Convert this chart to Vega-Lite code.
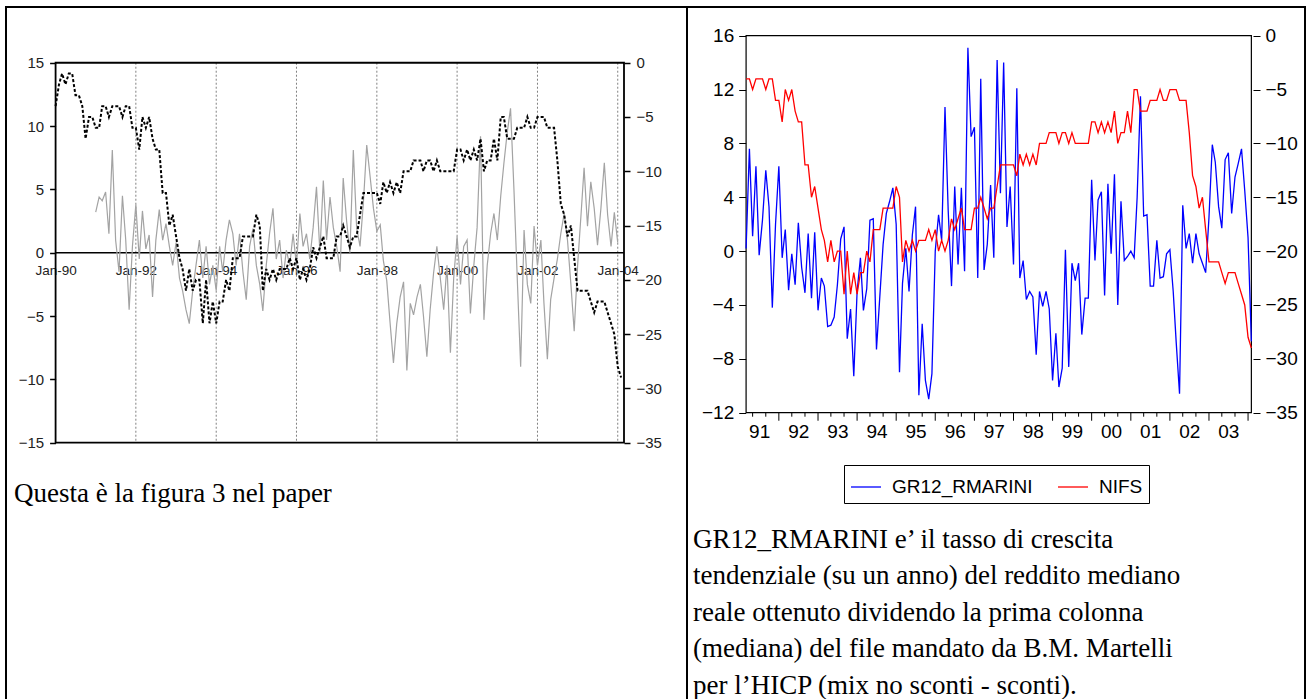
{
"$schema":"https://vega.github.io/schema/vega-lite/v6.json",
"padding":{"left":5,"top":6,"right":0,"bottom":0},
"background":"white",
"spacing":0,
"bounds":"flush",
"config":{"view":{"stroke":"#000","strokeWidth":2},"font":"Liberation Sans"},
"datasets":{
"gridL":[{"d":"1992-01"},{"d":"1994-01"},{"d":"1996-01"},{"d":"1998-01"},{"d":"2000-01"},{"d":"2002-01"},{"d":"2004-01"}],
"yearR":[{"d":"1992-01"},{"d":"1993-01"},{"d":"1994-01"},{"d":"1995-01"},{"d":"1996-01"},{"d":"1997-01"},{"d":"1998-01"},{"d":"1999-01"},{"d":"2000-01"},{"d":"2001-01"},{"d":"2002-01"},{"d":"2003-01"},{"d":"2004-01"}],
"minorR":[{"d":"1991-05"},{"d":"1991-09"},{"d":"1992-05"},{"d":"1992-09"},{"d":"1993-05"},{"d":"1993-09"},{"d":"1994-05"},{"d":"1994-09"},{"d":"1995-05"},{"d":"1995-09"},{"d":"1996-05"},{"d":"1996-09"},{"d":"1997-05"},{"d":"1997-09"},{"d":"1998-05"},{"d":"1998-09"},{"d":"1999-05"},{"d":"1999-09"},{"d":"2000-05"},{"d":"2000-09"},{"d":"2001-05"},{"d":"2001-09"},{"d":"2002-05"},{"d":"2002-09"},{"d":"2003-05"},{"d":"2003-09"}],
"m":[
{"d":"1990-01","n":-4},{"d":"1990-02","n":-2},{"d":"1990-03","n":-1},{"d":"1990-04","n":-2},{"d":"1990-05","n":-1},{"d":"1990-06","n":-1},{"d":"1990-07","n":-3},{"d":"1990-08","n":-3},{"d":"1990-09","n":-4},{"d":"1990-10","n":-7},{"d":"1990-11","n":-5},{"d":"1990-12","n":-5},
{"d":"1991-01","n":-6,"g":3.2},{"d":"1991-02","n":-6,"g":4.4},{"d":"1991-03","n":-4,"b":0.2,"g":4.1},{"d":"1991-04","n":-4,"b":7.6,"g":4.8},{"d":"1991-05","n":-5,"b":1.1,"g":1.5},{"d":"1991-06","n":-4,"b":6.3,"g":8.1},{"d":"1991-07","n":-4,"b":-0.3,"g":1.0},{"d":"1991-08","n":-4,"b":2.3,"g":-1.5},{"d":"1991-09","n":-5,"b":6.0,"g":4.5},{"d":"1991-10","n":-4,"b":3.3,"g":1.0},{"d":"1991-11","n":-4,"b":-4.2,"g":-4.5},{"d":"1991-12","n":-6,"b":2.0,"g":0.5},
{"d":"1992-01","n":-6,"b":6.3,"g":3.8},{"d":"1992-02","n":-8,"b":-0.5,"g":-0.5},{"d":"1992-03","n":-5,"b":1.6,"g":3.3},{"d":"1992-04","n":-6,"b":-2.9,"g":0.3},{"d":"1992-05","n":-5,"b":-0.2,"g":1.4},{"d":"1992-06","n":-7,"b":-2.5,"g":-3.5},{"d":"1992-07","n":-8,"b":2.1,"g":1.0},{"d":"1992-08","n":-8,"b":-1.2,"g":3.4},{"d":"1992-09","n":-12,"b":-3.1,"g":1.0},{"d":"1992-10","n":-12,"b":1.3,"g":2.3},{"d":"1992-11","n":-15,"b":-3.5,"g":0.5},{"d":"1992-12","n":-14,"b":1.4,"g":-1.0},
{"d":"1993-01","n":-16,"b":-4.4,"g":0.8},{"d":"1993-02","n":-18,"b":-2.0,"g":-2.0},{"d":"1993-03","n":-19,"b":-2.6,"g":-3.0},{"d":"1993-04","n":-21,"b":-5.6,"g":-4.5},{"d":"1993-05","n":-19,"b":-5.5,"g":-5.6},{"d":"1993-06","n":-21,"b":-4.9,"g":-3.0},{"d":"1993-07","n":-20,"b":-2.5,"g":-1.0},{"d":"1993-08","n":-20,"b":0.9,"g":1.0},{"d":"1993-09","n":-24,"b":1.8,"g":-2.0},{"d":"1993-10","n":-20,"b":-6.5,"g":0.5},{"d":"1993-11","n":-24,"b":-4.3,"g":-2.5},{"d":"1993-12","n":-22,"b":-9.3,"g":-1.0},
{"d":"1994-01","n":-24,"b":-3.0,"g":-3.0},{"d":"1994-02","n":-22,"b":-0.5,"g":0.5},{"d":"1994-03","n":-22,"b":-4.4,"g":-1.5},{"d":"1994-04","n":-20,"b":-2.8,"g":1.0},{"d":"1994-05","n":-21,"b":2.3,"g":2.6},{"d":"1994-06","n":-18,"b":2.4,"g":1.5},{"d":"1994-07","n":-18,"b":-7.3,"g":-1.0},{"d":"1994-08","n":-18,"b":-3.4,"g":1.5},{"d":"1994-09","n":-16,"b":0.5,"g":-1.5},{"d":"1994-10","n":-16,"b":2.8,"g":-3.7},{"d":"1994-11","n":-16,"b":3.7,"g":0.5},{"d":"1994-12","n":-16,"b":4.7,"g":1.9},
{"d":"1995-01","n":-14,"b":2.0,"g":-1.0},{"d":"1995-02","n":-15,"b":-9.0,"g":-2.5},{"d":"1995-03","n":-21,"b":-2.4,"g":-4.6},{"d":"1995-04","n":-19,"b":0.2,"g":-1.0},{"d":"1995-05","n":-20,"b":-3.0,"g":1.5},{"d":"1995-06","n":-19,"b":1.2,"g":3.5},{"d":"1995-07","n":-20,"b":3.3,"g":-0.5},{"d":"1995-08","n":-19,"b":-10.7,"g":1.0},{"d":"1995-09","n":-19,"b":-5.4,"g":-2.0},{"d":"1995-10","n":-19,"b":-9.6,"g":0.2},{"d":"1995-11","n":-18,"b":-11.0,"g":-1.0},{"d":"1995-12","n":-19,"b":-9.1,"g":1.5},
{"d":"1996-01","n":-18,"b":0.0,"g":-1.0},{"d":"1996-02","n":-20,"b":2.7,"g":3.1},{"d":"1996-03","n":-19,"b":0.8,"g":0.5},{"d":"1996-04","n":-20,"b":10.7,"g":1.5},{"d":"1996-05","n":-19,"b":3.0,"g":-0.5},{"d":"1996-06","n":-17,"b":-2.6,"g":2.0},{"d":"1996-07","n":-18,"b":4.8,"g":5.2},{"d":"1996-08","n":-17,"b":-1.0,"g":0.0},{"d":"1996-09","n":-16,"b":4.7,"g":5.7},{"d":"1996-10","n":-18,"b":-1.5,"g":1.0},{"d":"1996-11","n":-18,"b":15.1,"g":4.4},{"d":"1996-12","n":-18,"b":8.5,"g":2.0},
{"d":"1997-01","n":-16,"b":9.2,"g":0.5},{"d":"1997-02","n":-16,"b":-2.0,"g":-1.5},{"d":"1997-03","n":-15,"b":12.8,"g":5.9},{"d":"1997-04","n":-16,"b":-1.4,"g":2.5},{"d":"1997-05","n":-17,"b":0.5,"g":0.0},{"d":"1997-06","n":-16,"b":4.9,"g":8.1},{"d":"1997-07","n":-16,"b":-0.5,"g":2.0},{"d":"1997-08","n":-14,"b":14.2,"g":0.5},{"d":"1997-09","n":-12,"b":4.3,"g":4.0},{"d":"1997-10","n":-12,"b":14.0,"g":8.5},{"d":"1997-11","n":-12,"b":1.8,"g":6.0},{"d":"1997-12","n":-12,"b":4.8,"g":3.5},
{"d":"1998-01","n":-12,"b":-1.0,"g":1.7},{"d":"1998-02","n":-13,"b":12.1,"g":2.2},{"d":"1998-03","n":-11,"b":-2.0,"g":-0.6},{"d":"1998-04","n":-12,"b":-0.7,"g":-2.2},{"d":"1998-05","n":-11,"b":-3.6,"g":-5.5},{"d":"1998-06","n":-12,"b":-3.0,"g":-8.7},{"d":"1998-07","n":-11,"b":-3.4,"g":-5.6},{"d":"1998-08","n":-12,"b":-7.7,"g":-3.5},{"d":"1998-09","n":-10,"b":-3.0,"g":-2.3},{"d":"1998-10","n":-10,"b":-4.1,"g":-9.3},{"d":"1998-11","n":-10,"b":-3.0,"g":-4.0},{"d":"1998-12","n":-9,"b":-4.3,"g":-4.9},
{"d":"1999-01","n":-9,"b":-9.6,"g":-3.5},{"d":"1999-02","n":-9,"b":-6.1,"g":-2.5},{"d":"1999-03","n":-10,"b":-10.1,"g":-5.0},{"d":"1999-04","n":-9,"b":-8.7,"g":-8.2},{"d":"1999-05","n":-9,"b":0.1,"g":-4.5},{"d":"1999-06","n":-10,"b":-8.6,"g":-1.6},{"d":"1999-07","n":-9,"b":-0.9,"g":0.5},{"d":"1999-08","n":-10,"b":-2.2,"g":-2.0},{"d":"1999-09","n":-10,"b":-0.9,"g":-4.5},{"d":"1999-10","n":-10,"b":-6.2,"g":-1.0},{"d":"1999-11","n":-10,"b":-3.5,"g":-7.9},{"d":"1999-12","n":-10,"b":-3.5,"g":-2.0},
{"d":"2000-01","n":-8,"b":5.3,"g":1.3},{"d":"2000-02","n":-8,"b":-0.7,"g":-2.5},{"d":"2000-03","n":-9,"b":3.8,"g":0.5},{"d":"2000-04","n":-8,"b":4.4,"g":1.0},{"d":"2000-05","n":-9,"b":-3.3,"g":-4.8},{"d":"2000-06","n":-8,"b":5.0,"g":-1.0},{"d":"2000-07","n":-9,"b":-0.2,"g":2.0},{"d":"2000-08","n":-7,"b":5.7,"g":9.2},{"d":"2000-09","n":-10,"b":-4.0,"g":-5.3},{"d":"2000-10","n":-9,"b":3.7,"g":-1.0},{"d":"2000-11","n":-9,"b":-0.7,"g":1.5},{"d":"2000-12","n":-7,"b":-0.4,"g":3.1},
{"d":"2001-01","n":-9,"b":0.0,"g":1.0},{"d":"2001-02","n":-5,"b":-0.5,"g":4.5},{"d":"2001-03","n":-5,"b":4.0,"g":7.0},{"d":"2001-04","n":-7,"b":11.5,"g":9.5},{"d":"2001-05","n":-7,"b":2.6,"g":11.4},{"d":"2001-06","n":-7,"b":2.7,"g":5.0},{"d":"2001-07","n":-6,"b":-2.6,"g":-2.0},{"d":"2001-08","n":-6,"b":-2.6,"g":-9.0},{"d":"2001-09","n":-6,"b":0.8,"g":1.8},{"d":"2001-10","n":-5,"b":-2.0,"g":-2.5},{"d":"2001-11","n":-6,"b":-1.9,"g":-4.0},{"d":"2001-12","n":-6,"b":-0.2,"g":2.1},
{"d":"2002-01","n":-5,"b":0.1,"g":-1.0},{"d":"2002-02","n":-5,"b":-3.0,"g":1.0},{"d":"2002-03","n":-5,"b":-6.8,"g":-4.0},{"d":"2002-04","n":-6,"b":-10.6,"g":-8.4},{"d":"2002-05","n":-6,"b":3.4,"g":-3.7},{"d":"2002-06","n":-6,"b":0.2,"g":-2.0},{"d":"2002-07","n":-9,"b":1.3,"g":-0.5},{"d":"2002-08","n":-13,"b":-0.9,"g":1.5},{"d":"2002-09","n":-14,"b":1.3,"g":3.1},{"d":"2002-10","n":-16,"b":-0.2,"g":1.0},{"d":"2002-11","n":-15,"b":-0.9,"g":-2.5},{"d":"2002-12","n":-18,"b":-1.6,"g":-6.2},
{"d":"2003-01","n":-21,"b":2.5,"g":-1.0},{"d":"2003-02","n":-21,"b":7.9,"g":3.0},{"d":"2003-03","n":-21,"b":6.6,"g":6.7},{"d":"2003-04","n":-21,"b":3.3,"g":2.1},{"d":"2003-05","n":-22,"b":1.7,"g":5.6},{"d":"2003-06","n":-23,"b":6.8,"g":3.5},{"d":"2003-07","n":-22,"b":7.3,"g":0.6},{"d":"2003-08","n":-22,"b":2.8,"g":3.5},{"d":"2003-09","n":-22,"b":5.5,"g":7.1},{"d":"2003-10","n":-23,"b":6.5,"g":3.0},{"d":"2003-11","n":-24,"b":7.6,"g":0.5},{"d":"2003-12","n":-25,"b":4.5,"g":3.2},
{"d":"2004-01","n":-28,"b":1.0,"g":0.8},{"d":"2004-02","n":-29,"b":-6.7}
]},
"hconcat":[
{
"width":681,"height":695,
"title":{"text":"Questa è la figura 3 nel paper","orient":"bottom","anchor":"start","frame":"group","font":"Liberation Serif","fontSize":27,"fontWeight":"normal","color":"#000","baseline":"alphabetic","offset":0,"dx":8,"dy":-200},
"resolve":{"scale":{"y":"independent"}},
"layer":[
{"layer":[
{"data":{"name":"gridL"},
"mark":{"type":"rule","color":"#808080","strokeWidth":1,"strokeDash":[2,2]},
"encoding":{
"x":{"field":"d","type":"temporal","title":null,"scale":{"type":"utc","nice":false,"domain":[{"year":1988,"month":10,"date":7,"utc":true},{"year":2005,"month":9,"date":22,"utc":true}]},
"axis":{"orient":"bottom","offset":-449.3,"title":null,"domain":false,"ticks":false,"tickSize":0,"grid":false,"labelPadding":11,"labelFont":"Liberation Sans","labelFontSize":13.5,"labelColor":"#222","labelFlush":false,"labelOverlap":false,
"values":[{"year":1990,"month":1,"date":1,"utc":true},{"year":1992,"month":1,"date":1,"utc":true},{"year":1994,"month":1,"date":1,"utc":true},{"year":1996,"month":1,"date":1,"utc":true},{"year":1998,"month":1,"date":1,"utc":true},{"year":2000,"month":1,"date":1,"utc":true},{"year":2002,"month":1,"date":1,"utc":true},{"year":2004,"month":1,"date":1,"utc":true}],
"labelExpr":"utcFormat(toNumber(datum.value) + 1296000000, '%b-%y')"}},
"y":{"datum":15,"type":"quantitative","scale":{"domain":[-35.47,19.4],"nice":false,"zero":false},
"axis":{"orient":"left","offset":-49.6,"title":null,"domain":false,"grid":false,"tickSize":6,"tickColor":"#000","tickWidth":1.5,"labelPadding":6,"labelFont":"Liberation Sans","labelFontSize":15,"labelColor":"#222","labelFlush":false,"labelOverlap":false,"values":[-15,-10,-5,0,5,10,15]}},
"y2":{"datum":-15}
}},
{"data":{"values":[{}]},
"mark":{"type":"rect","fill":"transparent","stroke":"#000","strokeWidth":1.8},
"encoding":{
"x":{"datum":{"year":1990,"month":1,"date":1,"utc":true},"type":"temporal","scale":{"type":"utc","nice":false,"domain":[{"year":1988,"month":10,"date":7,"utc":true},{"year":2005,"month":9,"date":22,"utc":true}]}},
"x2":{"datum":{"year":2004,"month":2,"date":27,"utc":true}},
"y":{"datum":-15,"type":"quantitative","scale":{"domain":[-35.47,19.4],"nice":false,"zero":false}},
"y2":{"datum":15}
}},
{"data":{"values":[{}]},
"mark":{"type":"rule","color":"#000","strokeWidth":1.5},
"encoding":{
"x":{"datum":{"year":1990,"month":1,"date":1,"utc":true},"type":"temporal","scale":{"type":"utc","nice":false,"domain":[{"year":1988,"month":10,"date":7,"utc":true},{"year":2005,"month":9,"date":22,"utc":true}]}},
"x2":{"datum":{"year":2004,"month":2,"date":27,"utc":true}},
"y":{"datum":0,"type":"quantitative","scale":{"domain":[-35.47,19.4],"nice":false,"zero":false}}
}},
{"data":{"name":"m"},
"transform":[{"filter":"isValid(datum.g)"}],
"mark":{"type":"line","color":"#a3a3a3","strokeWidth":1.2},
"encoding":{
"x":{"field":"d","type":"temporal","title":null,"scale":{"type":"utc","nice":false,"domain":[{"year":1988,"month":10,"date":7,"utc":true},{"year":2005,"month":9,"date":22,"utc":true}]}},
"y":{"field":"g","type":"quantitative","title":null,"scale":{"domain":[-35.47,19.4],"nice":false,"zero":false}}
}}
]},
{"data":{"name":"m"},
"mark":{"type":"line","color":"#000","strokeWidth":2,"strokeDash":[3,2]},
"encoding":{
"x":{"field":"d","type":"temporal","title":null,"scale":{"type":"utc","nice":false,"domain":[{"year":1988,"month":10,"date":7,"utc":true},{"year":2005,"month":9,"date":22,"utc":true}]}},
"y":{"field":"n","type":"quantitative","title":null,"scale":{"domain":[-58.88,5.13],"nice":false,"zero":false},
"axis":{"orient":"right","offset":-63,"title":null,"domain":false,"grid":false,"tickSize":6,"tickColor":"#000","tickWidth":1.5,"labelPadding":6,"labelFont":"Liberation Sans","labelFontSize":15,"labelColor":"#222","labelFlush":false,"labelOverlap":false,"values":[-35,-30,-25,-20,-15,-10,-5,0]}}
}}
]
},
{
"width":618,"height":695,
"title":{"text":["GR12_RMARINI e’ il tasso di crescita","tendenziale (su un anno) del reddito mediano","reale ottenuto dividendo la prima colonna","(mediana) del file mandato da B.M. Martelli","per l’HICP (mix no sconti - sconti)."],"orient":"bottom","anchor":"start","frame":"group","font":"Liberation Serif","fontSize":27,"fontWeight":"normal","color":"#000","baseline":"alphabetic","lineHeight":36.4,"offset":0,"dx":6,"dy":-154},
"resolve":{"scale":{"y":"independent"}},
"layer":[
{"layer":[
{"data":{"name":"yearR"},
"mark":{"type":"rule","color":"#000","strokeWidth":1},
"encoding":{
"x":{"field":"d","type":"temporal","title":null,"scale":{"type":"utc","nice":false,"domain":[{"year":1989,"month":8,"date":26,"utc":true},{"year":2005,"month":6,"date":16,"utc":true}]},
"axis":{"orient":"bottom","offset":-289.3,"title":null,"domain":false,"grid":false,"ticks":false,"tickSize":0,
"labelExpr":"utcFormat(toNumber(datum.value) + 1296000000, '%y')",
"labelOffset":6.5,"labelPadding":10,"labelFont":"Liberation Sans","labelFontSize":19,"labelColor":"#000","labelFlush":false,"labelOverlap":false,
"values":[
{"year":1991,"month":5,"date":1,"utc":true},{"year":1992,"month":5,"date":1,"utc":true},{"year":1993,"month":5,"date":1,"utc":true},{"year":1994,"month":5,"date":1,"utc":true},{"year":1995,"month":5,"date":1,"utc":true},{"year":1996,"month":5,"date":1,"utc":true},{"year":1997,"month":5,"date":1,"utc":true},{"year":1998,"month":5,"date":1,"utc":true},{"year":1999,"month":5,"date":1,"utc":true},{"year":2000,"month":5,"date":1,"utc":true},{"year":2001,"month":5,"date":1,"utc":true},{"year":2002,"month":5,"date":1,"utc":true},{"year":2003,"month":5,"date":1,"utc":true}]}},
"y":{"datum":-12,"type":"quantitative","scale":{"domain":[-33.49,18.13],"nice":false,"zero":false},
"axis":{"orient":"left","offset":-58.7,"title":null,"domain":false,"grid":false,"tickSize":7,"tickColor":"#000","tickWidth":1,"labelPadding":5,"labelFont":"Liberation Sans","labelFontSize":19,"labelColor":"#000","labelFlush":false,"labelOverlap":false,"values":[-12,-8,-4,0,4,8,12,16]}},
"y2":{"datum":-12.6}
}},
{"data":{"name":"minorR"},
"mark":{"type":"rule","color":"#000","strokeWidth":1},
"encoding":{
"x":{"field":"d","type":"temporal","title":null,"scale":{"type":"utc","nice":false,"domain":[{"year":1989,"month":8,"date":26,"utc":true},{"year":2005,"month":6,"date":16,"utc":true}]}},
"y":{"datum":-12,"type":"quantitative","scale":{"domain":[-33.49,18.13],"nice":false,"zero":false}},
"y2":{"datum":-12.3}
}},
{"data":{"values":[{}]},
"mark":{"type":"rect","fill":"transparent","stroke":"#000","strokeWidth":1.2},
"encoding":{
"x":{"datum":{"year":1991,"month":3,"date":1,"utc":true},"type":"temporal","scale":{"type":"utc","nice":false,"domain":[{"year":1989,"month":8,"date":26,"utc":true},{"year":2005,"month":6,"date":16,"utc":true}]}},
"x2":{"datum":{"year":2004,"month":2,"date":1,"utc":true}},
"y":{"datum":-12,"type":"quantitative","scale":{"domain":[-33.49,18.13],"nice":false,"zero":false}},
"y2":{"datum":16}
}},
{"data":{"name":"m"},
"transform":[{"filter":"isValid(datum.b)"}],
"mark":{"type":"line","strokeWidth":1.3},
"encoding":{
"x":{"field":"d","type":"temporal","title":null,"scale":{"type":"utc","nice":false,"domain":[{"year":1989,"month":8,"date":26,"utc":true},{"year":2005,"month":6,"date":16,"utc":true}]}},
"y":{"field":"b","type":"quantitative","title":null,"scale":{"domain":[-33.49,18.13],"nice":false,"zero":false}},
"color":{"datum":"GR12_RMARINI","type":"nominal","scale":{"domain":["GR12_RMARINI","NIFS"],"range":["#0000ff","#ff0000"]},
"legend":{"orient":"none","legendX":838,"legendY":458,"direction":"horizontal","title":null,"symbolType":"stroke","symbolSize":900,"symbolStrokeWidth":1.3,"labelFont":"Liberation Sans","labelFontSize":19,"labelColor":"#000","labelOffset":10,"columnPadding":22,"padding":6,"strokeColor":"#000","fillColor":"#fff"}}
}}
]},
{"data":{"name":"m"},
"transform":[{"filter":"isValid(datum.b)"}],
"mark":{"type":"line","strokeWidth":1.3},
"encoding":{
"x":{"field":"d","type":"temporal","title":null,"scale":{"type":"utc","nice":false,"domain":[{"year":1989,"month":8,"date":26,"utc":true},{"year":2005,"month":6,"date":16,"utc":true}]}},
"y":{"field":"n","type":"quantitative","title":null,"scale":{"domain":[-61.86,2.665],"nice":false,"zero":false},
"axis":{"orient":"right","offset":-52,"title":null,"domain":false,"grid":false,"tickSize":7,"tickColor":"#000","tickWidth":1,"labelPadding":5,"labelFont":"Liberation Sans","labelFontSize":19,"labelColor":"#000","labelFlush":false,"labelOverlap":false,"values":[-35,-30,-25,-20,-15,-10,-5,0]}},
"color":{"datum":"NIFS","type":"nominal","scale":{"domain":["GR12_RMARINI","NIFS"],"range":["#0000ff","#ff0000"]}}
}}
]
}
]
}
